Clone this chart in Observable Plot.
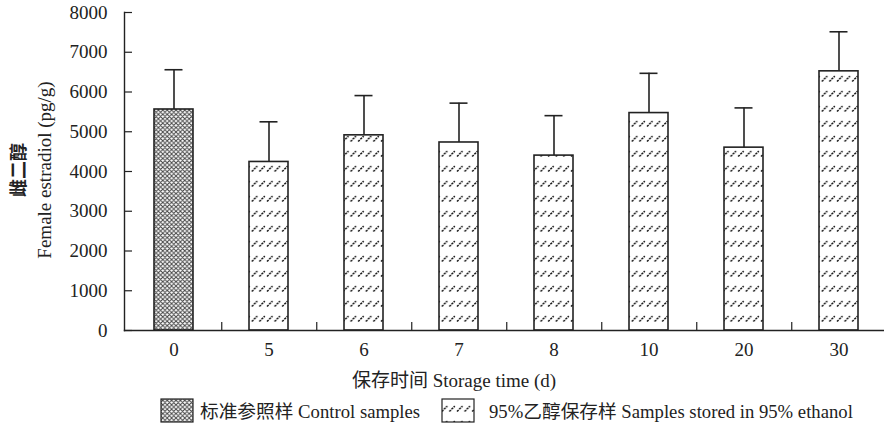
<!DOCTYPE html>
<html>
<head>
<meta charset="utf-8">
<script src="https://cdn.jsdelivr.net/npm/d3@7"></script>
<script src="https://cdn.jsdelivr.net/npm/@observablehq/plot@0.6"></script>
<style>
  html, body { margin: 0; padding: 0; background: #fff; overflow: hidden; }
  #chart { position: relative; width: 884px; height: 425px; }
</style>
</head>
<body>
<div id="chart"></div>
<script>
// ---- data ----
const categories = ["0", "5", "6", "7", "8", "10", "20", "30"];
const means = [5560, 4240, 4910, 4730, 4400, 5470, 4600, 6520];
const sds = [1000, 1010, 1000, 990, 1005, 1000, 1000, 995];
const groups = ["control", "ethanol", "ethanol", "ethanol", "ethanol", "ethanol", "ethanol", "ethanol"];
const yTicks = [0, 1000, 2000, 3000, 4000, 5000, 6000, 7000, 8000];
const yTitleCn = "雌二醇";
const yTitleEn = "Female estradiol (pg/g)";
const xTitle = "保存时间 Storage time (d)";
const legendLabels = ["标准参照样 Control samples", "95%乙醇保存样 Samples stored in 95% ethanol"];

const rows = categories.map((c, i) => ({cat: c, mean: means[i], sd: sds[i], group: groups[i]}));

// ---- layout ----
const W = 884, H = 425;
const mL = 124, mT = 12, mB = 95, mR = 0;
const xRange = [124, 888];
const step = (xRange[1] - xRange[0]) / categories.length;
const frameH = H - mT - mB;
const frameW = W - mL - mR;
const font = "'Liberation Serif', 'Times New Roman', 'Noto Sans CJK SC', serif";
const ink = "#222";

const plot = Plot.plot({
  width: W,
  height: H,
  marginLeft: mL,
  marginRight: mR,
  marginTop: mT,
  marginBottom: mB,
  style: {fontFamily: font, fontSize: "19px", color: ink, background: "#fff"},
  x: {domain: categories, range: xRange, paddingInner: 0.59, paddingOuter: 0.295, label: null},
  y: {domain: [0, 8000], label: null},
  marks: [
    Plot.barY(rows.filter(d => d.group === "control"), {x: "cat", y: "mean", fill: "url(#patControl)", stroke: ink, strokeWidth: 1.6}),
    Plot.barY(rows.filter(d => d.group === "ethanol"), {x: "cat", y: "mean", fill: "url(#patEthanol)", stroke: ink, strokeWidth: 1.6}),
    Plot.ruleX(rows, {x: "cat", y1: "mean", y2: d => d.mean + d.sd, stroke: ink, strokeWidth: 1.6}),
    Plot.tickY(rows, {x: "cat", y: d => d.mean + d.sd, stroke: ink, strokeWidth: 1.6, insetLeft: 10.5, insetRight: 10.5}),
    Plot.frame({anchor: "left", stroke: ink, strokeWidth: 1.4}),
    Plot.frame({anchor: "bottom", stroke: ink, strokeWidth: 1.4}),
    Plot.tickY(yTicks, {y: d => d, stroke: ink, strokeWidth: 1.2, insetRight: frameW - 8}),
    Plot.tickX(categories.slice(0, -1), {x: d => d, dx: step / 2, stroke: ink, strokeWidth: 1.2, insetTop: frameH - 8}),
    Plot.axisY(yTicks, {tickSize: 0, tickPadding: 17, fontSize: 19, tickFormat: d => String(d), label: null}),
    Plot.axisX({tickSize: 0, tickPadding: 12, fontSize: 19, label: null})
  ]
});

document.getElementById("chart").appendChild(plot);

const svg = d3.select(plot);
const defs = svg.insert("defs", ":first-child");

// cross-hatch for control
const pc = defs.append("pattern").attr("id", "patControl").attr("patternUnits", "userSpaceOnUse")
  .attr("width", 4.4).attr("height", 4.4);
pc.append("rect").attr("width", 4.4).attr("height", 4.4).attr("fill", "#fff");
pc.append("path").attr("d", "M0,0L4.4,4.4M0,4.4L4.4,0M-1,1L1,-1M3.4,5.4L5.4,3.4M-1,3.4L1,5.4M3.4,-1L5.4,1")
  .attr("stroke", "#444").attr("stroke-width", 1.0);

// dotted slashes for ethanol
const pe = defs.append("pattern").attr("id", "patEthanol").attr("patternUnits", "userSpaceOnUse")
  .attr("width", 7.6).attr("height", 15);
pe.append("rect").attr("width", 7.6).attr("height", 15).attr("fill", "#fff");
pe.append("path").attr("d", "M1,6.5L6.4,1.1")
  .attr("stroke", "#111").attr("stroke-width", 1.5).attr("stroke-dasharray", "2.2 0.9");

// axis titles
svg.append("text").attr("transform", "translate(17,170) rotate(-90)")
  .attr("text-anchor", "middle").attr("dominant-baseline", "central")
  .attr("font-family", "'Noto Sans CJK SC', sans-serif").attr("font-weight", "bold")
  .attr("font-size", 18).attr("fill", ink).text(yTitleCn);
svg.append("text").attr("transform", "translate(44,170) rotate(-90)")
  .attr("text-anchor", "middle").attr("dominant-baseline", "central")
  .attr("font-family", font).attr("font-size", 19).attr("fill", ink).text(yTitleEn);
svg.append("text").attr("x", 454).attr("y", 380)
  .attr("text-anchor", "middle").attr("dominant-baseline", "central")
  .attr("font-family", font).attr("font-size", 19).attr("fill", ink).text(xTitle);

// legend
const leg = [
  {x: 161, pat: "patControl", tx: 200, label: legendLabels[0]},
  {x: 442, pat: "patEthanol", tx: 489, label: legendLabels[1]}
];
leg.forEach(l => {
  svg.append("rect").attr("x", l.x).attr("y", 399).attr("width", 32).attr("height", 23)
    .attr("fill", `url(#${l.pat})`).attr("stroke", ink).attr("stroke-width", 1.2);
  svg.append("text").attr("x", l.tx).attr("y", 411).attr("text-anchor", "start").attr("dominant-baseline", "central")
    .attr("font-family", font).attr("font-size", 18.7).attr("fill", ink).text(l.label);
});
</script>
</body>
</html>
